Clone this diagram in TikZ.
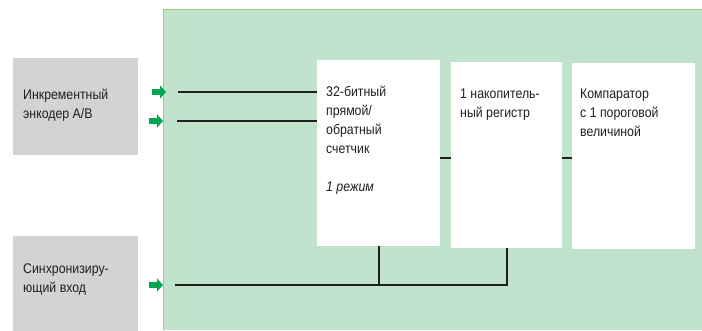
\documentclass[tikz,border=0pt]{standalone}
\usepackage{fontspec}
\setmainfont[FakeStretch=0.88]{Liberation Sans}
\usetikzlibrary{arrows.meta}
\definecolor{panelgreen}{RGB}{193,226,203}
\definecolor{paneledge}{RGB}{160,206,120}
\definecolor{boxgrey}{RGB}{209,211,212}
\definecolor{arrowgreen}{RGB}{0,166,81}
\definecolor{ink}{RGB}{35,31,32}

\begin{document}
\begin{tikzpicture}[
    x=1pt, y=-1pt,
    % Font of all texts
    font=\fontsize{14}{19}\selectfont,
    % Grey boxes of the inputs
    inbox/.style={fill=boxgrey, anchor=north west, inner sep=0pt, minimum width=125pt},
    % White function blocks
    block/.style={fill=white, anchor=north west, inner sep=0pt},
    % Texts (strut of 13.3pt on the first line, so the top lies 13.3pt above the first baseline)
    txt/.style={anchor=north west, align=left, inner sep=0pt, text=ink,
                execute at begin node=\strut, yshift=13.3pt},
    % Green input arrows
    inarrow/.style={-{Triangle[length=6pt,width=13pt]}, line width=6.5pt, color=arrowgreen},
    % Signal lines
    wire/.style={line width=1.8pt, color=ink}
]
    \useasboundingbox (0,0) rectangle (702,330);

    % --- Green panel ---
    \fill[panelgreen] (163,9) rectangle (702,330);
    \draw[paneledge, line width=1pt] (163,330) -- (163,9) -- (702,9);

    % --- Inputs ---
    \node[inbox, minimum height=97pt] (enc) at (13,58) {};
    \node[txt] (enctxt) at (23,102) {Инкрементный\\энкодер A/B};

    \node[inbox, minimum height=95pt] (sync) at (13,236) {};
    \node[txt] (synctxt) at (23,277) {Синхронизиру-\\ющий вход};

    % --- Blocks ---
    \node[block, minimum width=123pt, minimum height=186pt] (cnt) at (317,60) {};
    \node[txt] (cnttxt) at (326,99)
        {32-битный\\прямой/\\обратный\\счетчик\\[19pt]\textit{1 режим}};

    \node[block, minimum width=111pt, minimum height=186pt] (reg) at (451,62) {};
    \node[txt] (regtxt) at (460,102) {1 накопитель-\\ный регистр};

    \node[block, minimum width=123pt, minimum height=186pt] (cmp) at (572,63) {};
    \node[txt] (cmptxt) at (580,102) {Компаратор\\с 1 пороговой\\величиной};

    % --- Arrows ---
    \coordinate (a1) at (152,92);  \coordinate (a1e) at (166,92);
    \coordinate (a2) at (149,121); \coordinate (a2e) at (163,121);
    \coordinate (a3) at (149,285); \coordinate (a3e) at (163,285);
    \draw[inarrow] (a1) -- (a1e);
    \draw[inarrow] (a2) -- (a2e);
    \draw[inarrow] (a3) -- (a3e);

    % --- Lines ---
    \coordinate (l1) at (178,92);
    \coordinate (l2) at (177,121);
    \coordinate (l3) at (175,285);
    \coordinate (mid) at (0,158);
    \draw[wire] (l1) -- (cnt.west |- l1);
    \draw[wire] (l2) -- (cnt.west |- l2);
    \draw[wire] (cnt.east |- mid) -- (reg.west |- mid);
    \draw[wire] (reg.east |- mid) -- (cmp.west |- mid);
    \draw[wire] (l3) -| (reg.south);
    \draw[wire] (cnt.south) -- (cnt.south |- l3);

\end{tikzpicture}
\end{document}
